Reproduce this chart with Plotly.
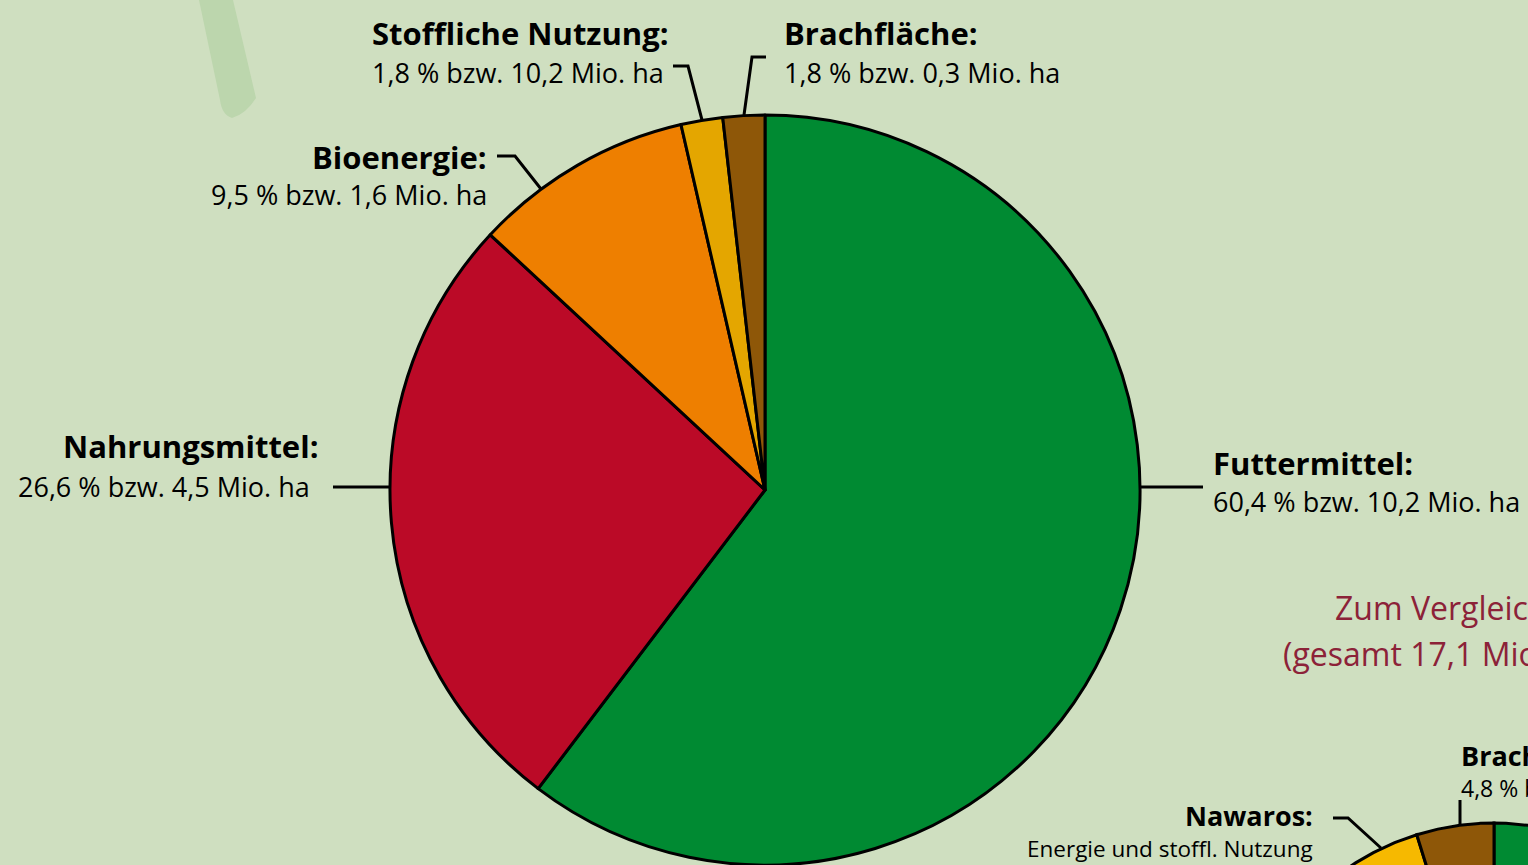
import numpy as np
import plotly.graph_objects as go

# ---- data ----
main_labels = ["Futtermittel", "Nahrungsmittel", "Bioenergie", "Stoffliche Nutzung", "Brachfläche"]
main_values = [60.4, 26.6, 9.5, 1.8, 1.8]
main_area = ["10,2", "4,5", "1,6", "10,2", "0,3"]
main_colors = ["#008a32", "#bb0a27", "#ee7f00", "#e4a600", "#8e5708"]

cmp_labels = ["Futtermittel", "Nahrungsmittel", "Nawaros", "Brachfläche"]
cmp_values = [58.4, 22.6, 14.2, 4.8]
cmp_colors = ["#008a32", "#bb0a27", "#f6b900", "#8e5708"]

W, H = 1528, 865
BG = "#cfdfc0"
FONT = "Open Sans"

fig = go.Figure()

# main pie (native pie trace)
cx, cy, r = 765, 490, 375
fig.add_trace(go.Pie(
    labels=main_labels, values=main_values, sort=False, direction="clockwise", rotation=0,
    marker=dict(colors=main_colors, line=dict(color="black", width=3)),
    textinfo="none", hoverinfo="label+percent", showlegend=False,
    domain=dict(x=[(cx - r) / W, (cx + r) / W], y=[(H - cy - r) / H, (H - cy + r) / H]),
))

# comparison pie, mostly outside the page: drawn from its values as filled arcs
c2x, c2y, r2 = 1494, 1083, 260
cum = np.concatenate([[0], np.cumsum(cmp_values)]) / np.sum(cmp_values) * 2 * np.pi
for i, lab in enumerate(cmp_labels):
    th = np.linspace(cum[i], cum[i + 1], 80)
    xs = np.concatenate([[c2x], c2x + r2 * np.sin(th), [c2x]])
    ys = np.concatenate([[c2y], c2y - r2 * np.cos(th), [c2y]])
    fig.add_trace(go.Scatter(x=xs, y=ys, mode="lines", fill="toself", fillcolor=cmp_colors[i],
                             line=dict(color="black", width=3), name=lab, showlegend=False,
                             hoverinfo="name"))

shapes = []
# decorative leaf stem in background
shapes.append(dict(type="path", layer="below", line=dict(width=0), fillcolor="#bcd6ad",
                   path="M 199 0 L 233 0 L 256 98 Q 246 114 232 118 Q 222 115 220 100 Z",
                   xref="x", yref="y"))
leaders = [
    "M 1140 487 L 1203 487",
    "M 333 487 L 390 487",
    "M 497 156 L 515 156 L 541 189",
    "M 673 66 L 688 66 L 702 120",
    "M 766 57 L 752 57 L 744 115",
    "M 1333 818 L 1348 818 L 1381 848",
    "M 1460 800 L 1460 826",
]
for p in leaders:
    shapes.append(dict(type="path", path=p, xref="x", yref="y", layer="above",
                       line=dict(color="black", width=3)))

annotations = []
def txt(x, y, t, anchor, size, bold=False, color="black"):
    annotations.append(dict(x=x, y=y, xref="x", yref="y", text=(f"<b>{t}</b>" if bold else t),
                            showarrow=False, xanchor=anchor, yanchor="middle",
                            font=dict(family=FONT, size=size, color=color)))

def pct(v):
    return f"{v:.1f}".replace(".", ",")

B, R = 31, 27
# main labels
txt(1211, 463, main_labels[0] + ":", "left", B, True)
txt(1211, 501, f"{pct(main_values[0])} % bzw. {main_area[0]} Mio. ha", "left", R)
txt(320, 446, main_labels[1] + ":", "right", B, True)
txt(312, 486, f"{pct(main_values[1])} % bzw. {main_area[1]} Mio. ha", "right", R)
txt(489, 157, main_labels[2] + ":", "right", B, True)
txt(489, 194, f"{pct(main_values[2])} % bzw. {main_area[2]} Mio. ha", "right", R)
txt(370, 33, main_labels[3] + ":", "left", B, True)
txt(370, 72, f"{pct(main_values[3])} % bzw. {main_area[3]} Mio. ha", "left", R)
txt(782, 33, main_labels[4] + ":", "left", B, True)
txt(782, 72, f"{pct(main_values[4])} % bzw. {main_area[4]} Mio. ha", "left", R)

# comparison labels
txt(1333, 607, "Zum Vergleich:", "left", 32, False, "#8c2238")
txt(1281, 653, "(gesamt 17,1 Mio. ha)", "left", 32, False, "#8c2238")
txt(1315, 815, cmp_labels[2] + ":", "right", 27, True)
txt(1315, 848, "Energie und stoffl. Nutzung", "right", 22.5)
txt(1459, 755, cmp_labels[3] + ":", "left", 27, True)
txt(1459, 788, f"{pct(cmp_values[3])} % bzw. 0,8 Mio. ha", "left", 23)

fig.update_layout(
    width=W, height=H, margin=dict(l=0, r=0, t=0, b=0),
    paper_bgcolor=BG, plot_bgcolor=BG,
    xaxis=dict(range=[0, W], visible=False, fixedrange=True),
    yaxis=dict(range=[H, 0], visible=False, fixedrange=True),
    shapes=shapes, annotations=annotations, showlegend=False,
)

fig.write_html("out.html", config={"displayModeBar": False},
               post_script="document.body.style.margin='0';")
